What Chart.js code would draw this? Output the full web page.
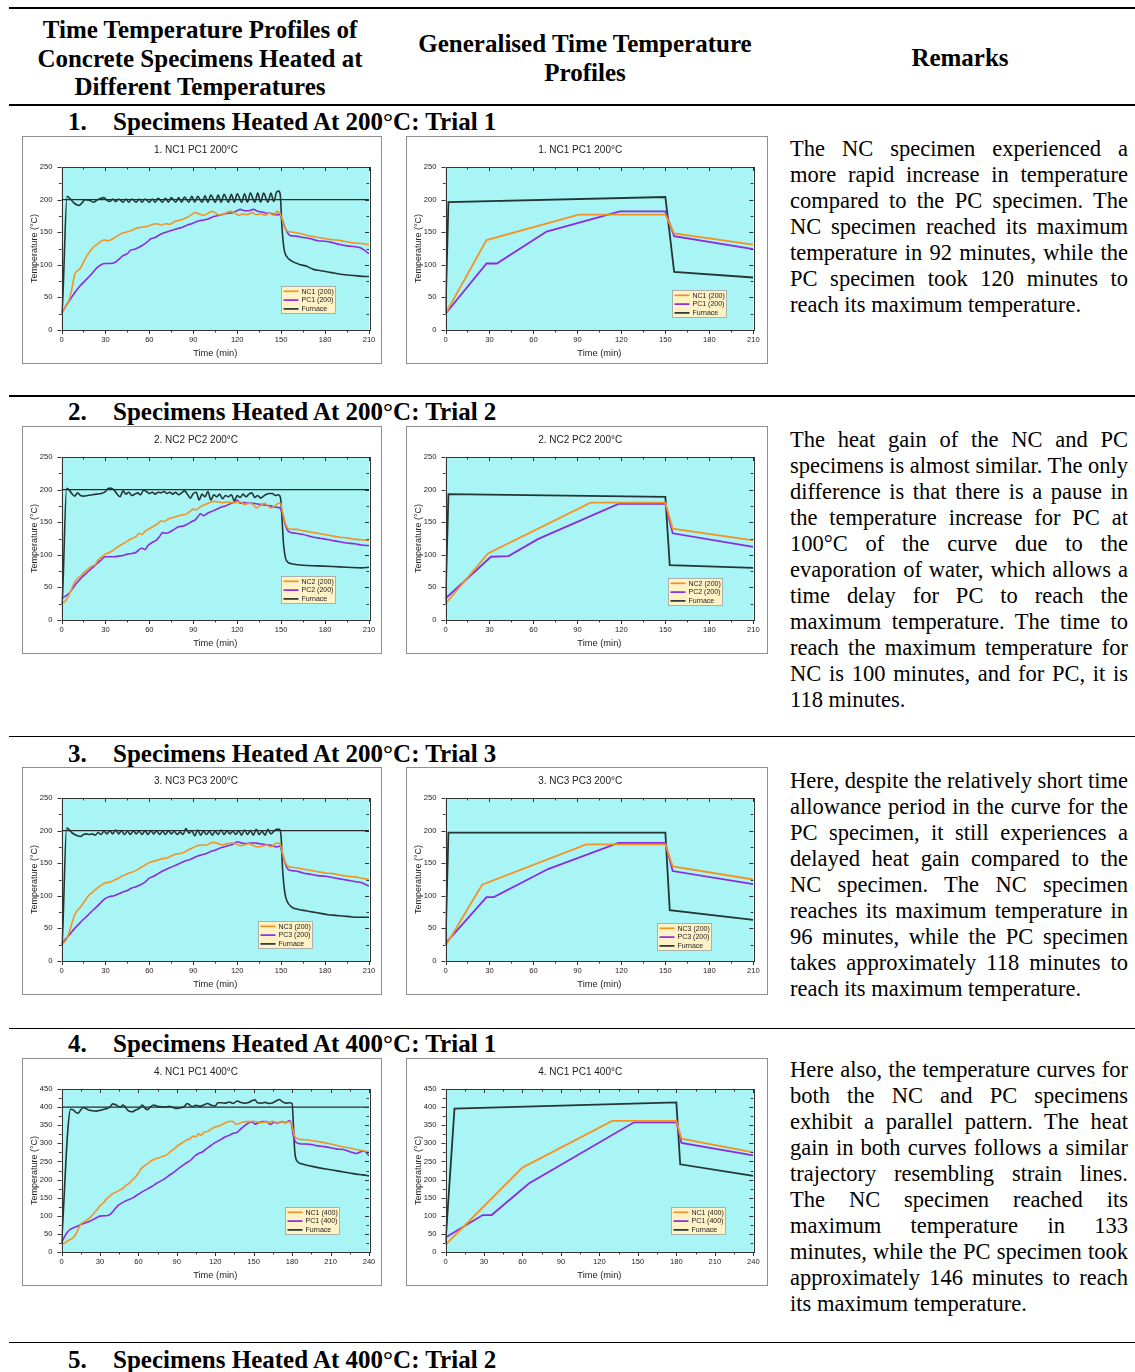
<!DOCTYPE html>
<html>
<head>
<meta charset="utf-8">
<script src="https://cdn.jsdelivr.net/npm/chart.js@4.4.1/dist/chart.umd.min.js"></script>
<style>
  html, body { margin: 0; padding: 0; background: #fff; }
  body { width: 1135px; height: 1372px; position: relative; overflow: hidden;
         font-family: "Liberation Serif", "Times New Roman", serif; color: #000; }
  .rule { position: absolute; left: 9px; width: 1126px; background: #000; }
  .hd { position: absolute; font-weight: bold; font-size: 25px; line-height: 28.5px; text-align: center; }
  .sec { position: absolute; font-weight: bold; font-size: 25px; line-height: 28px; white-space: nowrap; }
  .box { position: absolute; border: 1px solid #8e8e8e; background: #fff; }
  .box canvas { position: absolute; left: 0; top: 0; }
  .rm { position: absolute; left: 790px; width: 338px; font-size: 22.5px; line-height: 26px; }
  .rm div { text-align: justify; text-align-last: justify; }
  .rm div.end { text-align: left; text-align-last: left; }
  .rm div.tight { word-spacing: -3px; }
</style>
</head>
<body>

<div class="rule" style="top:6.7px;height:2.4px"></div>
<div class="hd" style="left:0;width:400px;top:16px">Time Temperature Profiles of<br>Concrete Specimens Heated at<br>Different Temperatures</div>
<div class="hd" style="left:385px;width:400px;top:30px">Generalised Time Temperature<br>Profiles</div>
<div class="hd" style="left:810px;width:300px;top:44px">Remarks</div>
<div class="rule" style="top:103.5px;height:2.4px"></div>

<!-- Row 1 -->
<div class="sec" style="left:68px;top:108px">1.</div>
<div class="sec" style="left:113px;top:108px">Specimens Heated At 200°C: Trial 1</div>
<div class="box" style="left:22px;top:136px;width:358px;height:226px"><canvas id="c1a" width="358" height="226"></canvas></div>
<div class="box" style="left:406px;top:136px;width:360px;height:226px"><canvas id="c1b" width="360" height="226"></canvas></div>
<div class="rm" style="top:136px">
  <div>The NC specimen experienced a</div>
  <div>more rapid increase in temperature</div>
  <div>compared to the PC specimen. The</div>
  <div>NC specimen reached its maximum</div>
  <div>temperature in 92 minutes, while the</div>
  <div>PC specimen took 120 minutes to</div>
  <div class="end">reach its maximum temperature.</div>
</div>

<!-- Row 2 -->
<div class="rule" style="top:395px;height:1.8px"></div>
<div class="sec" style="left:68px;top:398px">2.</div>
<div class="sec" style="left:113px;top:398px">Specimens Heated At 200°C: Trial 2</div>
<div class="box" style="left:22px;top:426px;width:358px;height:226px"><canvas id="c2a" width="358" height="226"></canvas></div>
<div class="box" style="left:406px;top:426px;width:360px;height:226px"><canvas id="c2b" width="360" height="226"></canvas></div>
<div class="rm" style="top:427px">
  <div>The heat gain of the NC and PC</div>
  <div class="tight">specimens is almost similar. The only</div>
  <div>difference is that there is a pause in</div>
  <div>the temperature increase for PC at</div>
  <div>100°C of the curve due to the</div>
  <div>evaporation of water, which allows a</div>
  <div>time delay for PC to reach the</div>
  <div>maximum temperature. The time to</div>
  <div>reach the maximum temperature for</div>
  <div>NC is 100 minutes, and for PC, it is</div>
  <div class="end">118 minutes.</div>
</div>

<!-- Row 3 -->
<div class="rule" style="top:735.5px;height:1.8px"></div>
<div class="sec" style="left:68px;top:740px">3.</div>
<div class="sec" style="left:113px;top:740px">Specimens Heated At 200°C: Trial 3</div>
<div class="box" style="left:22px;top:767px;width:358px;height:226px"><canvas id="c3a" width="358" height="226"></canvas></div>
<div class="box" style="left:406px;top:767px;width:360px;height:226px"><canvas id="c3b" width="360" height="226"></canvas></div>
<div class="rm" style="top:768px">
  <div class="tight">Here, despite the relatively short time</div>
  <div>allowance period in the curve for the</div>
  <div>PC specimen, it still experiences a</div>
  <div>delayed heat gain compared to the</div>
  <div>NC specimen. The NC specimen</div>
  <div>reaches its maximum temperature in</div>
  <div>96 minutes, while the PC specimen</div>
  <div>takes approximately 118 minutes to</div>
  <div class="end">reach its maximum temperature.</div>
</div>

<!-- Row 4 -->
<div class="rule" style="top:1027.5px;height:1.8px"></div>
<div class="sec" style="left:68px;top:1030px">4.</div>
<div class="sec" style="left:113px;top:1030px">Specimens Heated At 400°C: Trial 1</div>
<div class="box" style="left:22px;top:1058px;width:358px;height:226px"><canvas id="c4a" width="358" height="226"></canvas></div>
<div class="box" style="left:406px;top:1058px;width:360px;height:226px"><canvas id="c4b" width="360" height="226"></canvas></div>
<div class="rm" style="top:1057px">
  <div>Here also, the temperature curves for</div>
  <div>both the NC and PC specimens</div>
  <div>exhibit a parallel pattern. The heat</div>
  <div>gain in both curves follows a similar</div>
  <div>trajectory resembling strain lines.</div>
  <div>The NC specimen reached its</div>
  <div>maximum temperature in 133</div>
  <div>minutes, while the PC specimen took</div>
  <div>approximately 146 minutes to reach</div>
  <div class="end">its maximum temperature.</div>
</div>

<!-- Row 5 -->
<div class="rule" style="top:1341.5px;height:1.8px"></div>
<div class="sec" style="left:68px;top:1346px">5.</div>
<div class="sec" style="left:113px;top:1346px">Specimens Heated At 400°C: Trial 2</div>

<script>
// ---------- Measured profiles: [time (min), temperature (°C)] ----------
const NC1_200 = [[0,25],[3,37],[5,45],[7,62],[9,85],[11,91],[13,95],[15,104],[18,116],[21,125],[24,131],[27,136],[29,138],[32,137],[35,140],[38,144],[41,148],[44,150],[47,152],[50,155],[53,157],[56,158],[59,159],[62,162],[65,163],[68,161],[71,163],[74,162],[77,166],[80,168],[83,170],[86,173],[89,177],[91,180],[94,178],[97,176],[100,179],[103,182],[106,178],[109,176],[112,179],[115,182],[118,180],[121,176],[124,178],[127,177],[130,180],[133,177],[136,178],[139,176],[142,179],[145,176],[147,182],[149,179],[150.5,172],[152,160],[154,152],[158,150],[163,148],[168,145],[173,143],[178,141],[183,139],[188,138],[193,136],[198,134],[203,133],[207,132],[210,131]];
const PC1_200 = [[0,25],[3,37],[6,47],[9,57],[12,66],[15,73],[18,80],[21,87],[24,95],[27,100],[30,102],[33,102],[36,103],[39,108],[42,114],[45,117],[47,122],[50,124],[53,127],[56,131],[59,136],[61,140],[64,142],[67,146],[70,149],[73,151],[77,154],[80,156],[83,158],[86,161],[89,163],[92,166],[95,168],[98,169],[101,171],[104,174],[108,176],[111,178],[114,179],[117,180],[120,183],[122,185],[125,183],[128,183],[131,185],[134,182],[137,181],[140,179],[143,179],[146,177],[149,177],[151,168],[153,155],[156,145],[160,144],[165,142],[170,140],[175,137],[180,136],[185,134],[190,131],[195,129],[200,128],[204,126],[207,122],[210,117]];
const FURNACE1_200 = [[0,25],[0.7,40],[3.8,205],[6,201],[9,194],[12,191],[14,195],[16,200],[19,199],[22,196],[24,199],[27,202],[29,203],[31,199],[33,197],[35,201],[37,197],[39,201],[42,196],[44,201],[46,196],[48,201],[51,196],[53,201],[55,196],[57,201],[60,196],[62,201],[64,196],[66,202],[69,196],[71,202],[73,196],[75,203],[78,196],[80,203],[82,196],[84,204],[87,196],[89,205],[91,196],[93,205],[96,196],[98,206],[100,196],[102,207],[105,196],[107,207],[109,196],[111,208],[114,196],[116,208],[118,196],[120,209],[123,196],[125,209],[127,196],[129,210],[132,196],[134,210],[136,196],[138,210],[141,196],[143,210],[145,197],[147,212],[148.5,213],[149.5,205],[150.5,160],[152,124],[154,112],[157,106],[162,101],[167,98],[172,93],[177,91],[182,89],[187,87],[192,85],[197,84],[202,83],[207,82],[210,82]];

const NC2_200 = [[0,25],[3,30],[5,38],[7,48],[9,58],[11,64],[13,67],[15,72],[17,76],[19,80],[21,83],[23,85],[25,92],[27,96],[30,101],[33,104],[36,108],[39,113],[42,117],[45,121],[48,125],[51,128],[53,133],[55,131],[57,136],[60,140],[63,144],[66,148],[68,152],[70,151],[73,155],[76,157],[79,159],[82,161],[85,162],[88,167],[90,170],[92,169],[95,174],[98,177],[101,180],[104,182],[107,181],[110,180],[113,181],[116,180],[119,180],[122,181],[125,177],[128,179],[131,177],[133,172],[136,176],[139,179],[141,175],[143,172],[146,175],[148,179],[149.5,179],[151,165],[153,148],[155,140],[160,139],[165,137],[170,135],[175,133],[180,131],[185,129],[190,127],[195,126],[200,124],[205,123],[210,122]];
const PC2_200 = [[0,33],[3,37],[6,43],[9,53],[12,61],[15,68],[18,74],[21,80],[24,86],[27,92],[30,97],[33,97],[36,97],[39,98],[42,99],[45,101],[48,102],[51,104],[53,108],[55,110],[57,108],[59,114],[62,119],[65,123],[67,128],[69,134],[71,133],[74,135],[77,139],[80,143],[83,144],[86,147],[89,151],[91,153],[93,158],[95,163],[97,160],[100,164],[103,167],[106,170],[109,173],[112,175],[115,178],[118,181],[120,184],[122,179],[125,180],[128,179],[131,179],[134,178],[137,177],[140,176],[143,175],[146,173],[149,172],[151,162],[153,145],[155,136],[160,133],[165,131],[170,128],[175,126],[180,124],[185,122],[190,120],[195,118],[200,117],[205,115],[210,114]];
const FURNACE2_200 = [[0,25],[0.5,30],[3.5,202],[5,200],[7,194],[9,190],[11,195],[13,191],[15,190],[18,191],[21,192],[24,193],[27,194],[30,197],[32,202],[34,202],[36,199],[38,193],[40,189],[42,198],[44,193],[46,196],[48,191],[50,193],[52,195],[54,192],[56,199],[58,197],[60,194],[62,196],[64,193],[66,196],[68,195],[70,197],[72,194],[74,196],[76,193],[78,196],[80,192],[82,195],[84,198],[86,193],[88,187],[90,194],[92,196],[94,184],[96,193],[98,189],[100,197],[102,184],[104,192],[106,189],[108,193],[110,186],[112,191],[114,189],[116,192],[118,183],[120,191],[122,188],[124,193],[126,189],[128,193],[130,195],[132,188],[134,191],[136,187],[138,190],[140,193],[142,194],[144,194],[146,191],[148,192],[149.5,188],[150.5,160],[151.5,120],[153,95],[155,88],[158,86],[165,84],[175,83],[185,82],[195,81],[205,80],[210,81]];

const NC3_200 = [[0,24],[3,32],[5,42],[7,57],[9,71],[11,78],[13,83],[15,89],[18,99],[21,105],[24,111],[27,116],[30,120],[33,121],[36,124],[39,127],[42,131],[45,134],[48,136],[51,139],[54,143],[57,147],[60,151],[63,153],[66,155],[69,157],[72,158],[75,161],[78,164],[81,165],[84,167],[87,171],[90,174],[93,177],[96,178],[99,178],[102,181],[104,182],[107,180],[110,178],[113,180],[116,181],[119,180],[122,177],[125,178],[128,180],[131,177],[134,175],[137,176],[140,178],[143,175],[146,180],[148,181],[149.5,178],[151,165],[153,150],[155,145],[160,143],[165,141],[170,139],[175,137],[180,135],[185,134],[190,132],[195,130],[200,129],[205,127],[210,125]];
const PC3_200 = [[0,26],[3,34],[6,42],[9,50],[12,57],[15,64],[18,70],[21,77],[24,83],[27,90],[30,96],[33,99],[36,100],[39,103],[42,106],[45,108],[48,112],[51,114],[54,117],[57,121],[60,127],[63,130],[66,134],[69,138],[72,141],[75,144],[78,147],[81,150],[84,153],[87,155],[90,158],[93,161],[96,163],[99,165],[102,168],[105,170],[108,173],[111,175],[114,177],[117,179],[120,183],[123,181],[126,180],[129,181],[132,181],[135,180],[138,179],[141,178],[144,177],[147,175],[149,176],[151,163],[153,148],[155,140],[160,138],[165,135],[170,133],[175,131],[180,130],[185,128],[190,126],[195,124],[200,122],[205,120],[208,117],[210,115]];
const FURNACE3_200 = [[0,24],[0.5,30],[3.5,204],[5,202],[7,197],[9,194],[11,192],[13,191],[15,194],[17,195],[19,194],[21,195],[23,193],[25,197],[27,194],[29,199],[31,195],[33,200],[35,195],[37,201],[39,195],[41,200],[43,194],[45,199],[47,194],[49,200],[51,195],[53,199],[55,194],[57,200],[59,194],[61,200],[63,195],[65,200],[67,194],[69,199],[71,194],[73,200],[75,195],[77,199],[79,194],[81,198],[83,194],[85,203],[87,196],[89,200],[91,192],[93,201],[95,193],[97,199],[99,194],[101,199],[103,193],[105,199],[107,194],[109,201],[111,194],[113,200],[115,195],[117,199],[119,194],[121,200],[123,193],[125,201],[127,194],[129,200],[131,193],[133,202],[135,194],[137,199],[139,193],[141,202],[143,195],[145,199],[147,202],[149,202],[150,190],[151,140],[152.5,105],[154,92],[157,83],[162,79],[167,77],[172,75],[177,73],[182,71],[187,70],[192,69],[197,68],[202,67],[207,67],[210,67]];

const NC1_400 = [[0,22],[3,26],[5,31],[8,37],[10,43],[12,55],[14,70],[16,80],[18,84],[20,89],[23,97],[25,106],[28,118],[30,127],[33,137],[35,146],[38,155],[40,161],[43,166],[45,170],[48,176],[50,183],[53,190],[55,198],[58,208],[60,218],[62,229],[64,236],[67,243],[70,252],[73,257],[76,260],[79,264],[82,268],[85,277],[88,285],[91,294],[94,301],[97,308],[100,312],[103,320],[105,318],[107,326],[109,322],[111,330],[114,333],[117,340],[120,345],[123,348],[126,353],[129,358],[132,361],[134,360],[136,353],[138,354],[141,358],[144,360],[147,360],[150,361],[153,359],[156,357],[159,360],[162,358],[165,361],[168,354],[171,360],[174,358],[177,359],[179,360],[180.5,340],[182,320],[184,313],[190,310],[195,308],[200,305],[205,302],[210,298],[215,294],[220,290],[225,287],[230,283],[235,280],[240,276]];
const PC1_400 = [[0,25],[2,40],[4,52],[6,60],[8,65],[10,68],[13,72],[16,77],[19,81],[22,85],[25,90],[28,96],[30,99],[33,100],[36,101],[38,104],[40,111],[42,120],[44,128],[46,133],[48,137],[50,141],[53,145],[56,150],[59,157],[62,164],[65,170],[68,176],[71,182],[74,189],[77,195],[80,201],[83,209],[86,216],[89,224],[92,232],[95,240],[98,247],[101,254],[104,265],[107,272],[110,276],[113,285],[116,292],[119,300],[122,306],[125,312],[128,318],[131,322],[134,328],[137,330],[140,340],[143,349],[146,356],[149,359],[151,353],[154,357],[157,360],[160,360],[163,352],[166,358],[169,356],[172,360],[175,357],[178,363],[179.5,352],[181,320],[183,303],[186,299],[190,298],[195,297],[200,293],[205,291],[210,288],[215,284],[220,283],[225,277],[230,272],[233,276],[236,279],[240,266]];
const FURNACE1_400 = [[0,22],[1,80],[3,220],[5,340],[7,394],[9,393],[11,386],[13,383],[15,392],[17,399],[19,396],[21,392],[24,390],[27,389],[30,391],[33,394],[36,397],[38,401],[40,409],[42,407],[44,403],[46,400],[48,406],[50,399],[52,390],[55,387],[58,392],[61,397],[63,406],[65,398],[67,393],[69,399],[72,406],[75,402],[78,401],[81,400],[84,402],[87,399],[90,396],[93,398],[96,402],[98,410],[100,406],[102,401],[105,405],[108,402],[111,406],[114,410],[117,405],[120,403],[122,412],[125,412],[128,411],[131,414],[134,410],[137,417],[140,413],[143,411],[146,413],[149,418],[151,420],[153,412],[156,411],[159,413],[162,410],[165,412],[168,418],[170,421],[172,416],[175,411],[178,412],[180,410],[181,350],[182,280],[184,250],[187,244],[190,241],[195,237],[200,233],[205,230],[210,227],[215,224],[220,221],[225,218],[230,215],[235,213],[240,210]];

// ---------- Generalised (idealised) profiles ----------
const NC1_200_GEN = [[0,25],[28,138],[91,177],[150,177],[156,148],[210,131]];
const PC1_200_GEN = [[0,25],[28,102],[35,102],[69,151],[119,182],[150,182],[156,144],[210,124]];
const FURNACE1_200_GEN = [[0,25],[2,196],[150,204],[156,89],[210,80.5]];

const NC2_200_GEN = [[0,25],[29,102],[99,180],[150,180],[155,140],[210,122]];
const PC2_200_GEN = [[0,33],[31,97],[43,98],[63,124],[118,178],[150,178],[155,133],[210,112]];
const FURNACE2_200_GEN = [[0,25],[2,193],[150,189],[153,84],[210,80]];

const NC3_200_GEN = [[0,23],[25,117],[96,179],[150,179],[155,145],[210,125]];
const PC3_200_GEN = [[0,27],[28,98],[33,98],[70,141],[118,181],[150,181],[155,138],[210,118]];
const FURNACE3_200_GEN = [[0,24],[2,197],[150,197],[153,78],[210,63]];

const NC1_400_GEN = [[0,20],[60,233],[130,362],[180,362],[184,313],[240,275]];
const PC1_400_GEN = [[0,40],[29,102],[36,102],[65,189],[147,358],[180,358],[184,301],[240,267]];
const FURNACE1_400_GEN = [[0,25],[7,396],[180,413],[183,242],[240,210]];

// Target (set-point) temperatures
const SETPOINT_200 = 200;
const SETPOINT_400 = 400;

// ---------- Styling ----------
const SANS = '"Liberation Sans", Arial, Helvetica, sans-serif';
const PLOT_FILL = '#a9f5f5';
const LEGEND_FILL = '#fff2c6';
const C_NC = '#f39322';
const C_PC = '#8a2be2';
const C_FURNACE = '#253535';
const C_SET = '#2a2a2a';

// Plot background, frame, minor/major tick marks and inset legend
const plotDecor = {
  id: 'plotDecor',
  beforeDraw(chart) {
    const a = chart.chartArea, c = chart.ctx;
    c.save();
    c.fillStyle = PLOT_FILL;
    c.fillRect(a.left, a.top, a.right - a.left, a.bottom - a.top);
    c.restore();
  },
  afterDraw(chart, args, o) {
    const a = chart.chartArea, c = chart.ctx;
    const xs = chart.scales.x, ys = chart.scales.y;
    c.save();
    c.strokeStyle = '#333';
    c.lineWidth = 1;
    c.beginPath();
    xs.ticks.forEach(t => {
      const p = Math.round(xs.getPixelForValue(t.value)) + 0.5;
      const L = (t.value % o.xMajor === 0) ? 4 : 2.5;
      c.moveTo(p, a.bottom); c.lineTo(p, a.bottom + L);
      c.moveTo(p, a.top); c.lineTo(p, a.top + L);
    });
    ys.ticks.forEach(t => {
      const p = Math.round(ys.getPixelForValue(t.value)) + 0.5;
      const L = (t.value % o.yMajor === 0) ? 4 : 2.5;
      c.moveTo(a.left, p); c.lineTo(a.left - L, p);
      c.moveTo(a.right, p); c.lineTo(a.right - L, p);
    });
    c.stroke();
    c.strokeRect(Math.round(a.left) + 0.5, Math.round(a.top) + 0.5,
                 Math.round(a.right - a.left), Math.round(a.bottom - a.top));

    // inset legend
    const lx = Math.round(a.left + o.legend[0] * (a.right - a.left)) + 0.5;
    const ly = Math.round(a.top + o.legend[1] * (a.bottom - a.top)) + 0.5;
    const items = chart.data.datasets.filter(d => d.inLegend);
    c.fillStyle = LEGEND_FILL;
    c.fillRect(lx, ly, 54, 27);
    c.strokeStyle = '#a0a0a0';
    c.lineWidth = 0.8;
    c.strokeRect(lx, ly, 54, 27);
    c.font = '7px ' + SANS;
    c.textBaseline = 'middle';
    items.forEach((d, i) => {
      const cy = ly + 4.8 + i * 8.8;
      c.strokeStyle = d.borderColor;
      c.lineWidth = 1.7;
      c.beginPath(); c.moveTo(lx + 2, cy); c.lineTo(lx + 17, cy); c.stroke();
      c.fillStyle = '#222';
      c.fillText(d.label, lx + 20, cy + 0.3);
    });
    c.restore();
  }
};

function toXY(arr) { return arr.map(p => ({ x: p[0], y: p[1] })); }

function buildChart(id, spec) {
  const measured = spec.kind === 'measured';
  const datasets = spec.series.map(s => ({
    label: s.label,
    data: toXY(s.points),
    borderColor: s.color,
    borderWidth: s.width || (measured ? 1.6 : 1.8),
    pointRadius: 0,
    fill: false,
    tension: 0,
    cubicInterpolationMode: measured ? 'monotone' : 'default',
    inLegend: s.inLegend !== false,
    order: s.order || 0
  }));
  const canvas = document.getElementById(id);
  return new Chart(canvas, {
    type: 'line',
    data: { datasets },
    plugins: [plotDecor],
    options: {
      responsive: false,
      animation: false,
      devicePixelRatio: 1,
      events: [],
      layout: { autoPadding: false, padding: { left: 0, right: spec.padRight, top: 0, bottom: 0 } },
      plugins: {
        legend: { display: false },
        tooltip: { enabled: false },
        title: {
          display: true, text: spec.title, color: '#222',
          font: { family: SANS, size: 10, weight: 'normal', lineHeight: 1.2 },
          padding: { top: 7, bottom: 11 }
        },
        plotDecor: { legend: spec.legendAt, xMajor: 30, yMajor: 50 }
      },
      scales: {
        x: {
          type: 'linear', min: 0, max: spec.xMax,
          grid: { display: false, drawTicks: false },
          border: { display: false },
          ticks: {
            stepSize: 15, autoSkip: false, maxRotation: 0, padding: 5, color: '#222',
            font: { family: SANS, size: 7.6 },
            callback: v => (v % 30 === 0 ? String(v) : '')
          },
          title: {
            display: true, text: 'Time (min)', color: '#222',
            font: { family: SANS, size: 9.3 }, padding: { top: 0, bottom: 4.2 }
          },
          afterFit(s) { s.height = 33; }
        },
        y: {
          type: 'linear', min: 0, max: spec.yMax,
          grid: { display: false, drawTicks: false },
          border: { display: false },
          ticks: {
            stepSize: 25, autoSkip: false, padding: 9, color: '#222',
            font: { family: SANS, size: 7.6 },
            callback: v => (v % 50 === 0 ? String(v) : '')
          },
          title: {
            display: true, text: 'Temperature (°C)', color: '#222',
            font: { family: SANS, size: 9 }, padding: { top: 6.6, bottom: 0 }
          },
          afterFit(s) { s.width = 38.5; }
        }
      }
    }
  });
}

function setLine(value, xMax) { return [[0, value], [xMax, value]]; }

// ---------- Row 1 ----------
buildChart('c1a', {
  kind: 'measured', title: '1. NC1 PC1 200°C', xMax: 210, yMax: 250, padRight: 12, legendAt: [0.714, 0.729],
  series: [
    { label: 'NC1 (200)', points: NC1_200, color: C_NC },
    { label: 'PC1 (200)', points: PC1_200, color: C_PC },
    { label: 'Furnace', points: FURNACE1_200, color: C_FURNACE, order: 1 },
    { label: 'Set point', points: setLine(SETPOINT_200, 210), color: C_SET, width: 1.1, inLegend: false, order: 2 }
  ]
});
buildChart('c1b', {
  kind: 'generalised', title: '1. NC1 PC1 200°C', xMax: 210, yMax: 250, padRight: 13.7, legendAt: [0.735, 0.755],
  series: [
    { label: 'NC1 (200)', points: NC1_200_GEN, color: C_NC },
    { label: 'PC1 (200)', points: PC1_200_GEN, color: C_PC },
    { label: 'Furnace', points: FURNACE1_200_GEN, color: C_FURNACE, order: 1 }
  ]
});

// ---------- Row 2 ----------
buildChart('c2a', {
  kind: 'measured', title: '2. NC2 PC2 200°C', xMax: 210, yMax: 250, padRight: 12, legendAt: [0.714, 0.729],
  series: [
    { label: 'NC2 (200)', points: NC2_200, color: C_NC },
    { label: 'PC2 (200)', points: PC2_200, color: C_PC },
    { label: 'Furnace', points: FURNACE2_200, color: C_FURNACE, order: 1 },
    { label: 'Set point', points: setLine(SETPOINT_200, 210), color: C_SET, width: 1.1, inLegend: false, order: 2 }
  ]
});
buildChart('c2b', {
  kind: 'generalised', title: '2. NC2 PC2 200°C', xMax: 210, yMax: 250, padRight: 13.7, legendAt: [0.724, 0.741],
  series: [
    { label: 'NC2 (200)', points: NC2_200_GEN, color: C_NC },
    { label: 'PC2 (200)', points: PC2_200_GEN, color: C_PC },
    { label: 'Furnace', points: FURNACE2_200_GEN, color: C_FURNACE, order: 1 }
  ]
});

// ---------- Row 3 ----------
buildChart('c3a', {
  kind: 'measured', title: '3. NC3 PC3 200°C', xMax: 210, yMax: 250, padRight: 12, legendAt: [0.639, 0.755],
  series: [
    { label: 'NC3 (200)', points: NC3_200, color: C_NC },
    { label: 'PC3 (200)', points: PC3_200, color: C_PC },
    { label: 'Furnace', points: FURNACE3_200, color: C_FURNACE, order: 1 },
    { label: 'Set point', points: setLine(SETPOINT_200, 210), color: C_SET, width: 1.1, inLegend: false, order: 2 }
  ]
});
buildChart('c3b', {
  kind: 'generalised', title: '3. NC3 PC3 200°C', xMax: 210, yMax: 250, padRight: 13.7, legendAt: [0.687, 0.768],
  series: [
    { label: 'NC3 (200)', points: NC3_200_GEN, color: C_NC },
    { label: 'PC3 (200)', points: PC3_200_GEN, color: C_PC },
    { label: 'Furnace', points: FURNACE3_200_GEN, color: C_FURNACE, order: 1 }
  ]
});

// ---------- Row 4 ----------
buildChart('c4a', {
  kind: 'measured', title: '4. NC1 PC1 400°C', xMax: 240, yMax: 450, padRight: 12, legendAt: [0.727, 0.722],
  series: [
    { label: 'NC1 (400)', points: NC1_400, color: C_NC },
    { label: 'PC1 (400)', points: PC1_400, color: C_PC },
    { label: 'Furnace', points: FURNACE1_400, color: C_FURNACE, order: 1 },
    { label: 'Set point', points: setLine(SETPOINT_400, 240), color: C_SET, width: 1.1, inLegend: false, order: 2 }
  ]
});
buildChart('c4b', {
  kind: 'generalised', title: '4. NC1 PC1 400°C', xMax: 240, yMax: 450, padRight: 13.7, legendAt: [0.731, 0.722],
  series: [
    { label: 'NC1 (400)', points: NC1_400_GEN, color: C_NC },
    { label: 'PC1 (400)', points: PC1_400_GEN, color: C_PC },
    { label: 'Furnace', points: FURNACE1_400_GEN, color: C_FURNACE, order: 1 }
  ]
});
</script>
</body>
</html>
